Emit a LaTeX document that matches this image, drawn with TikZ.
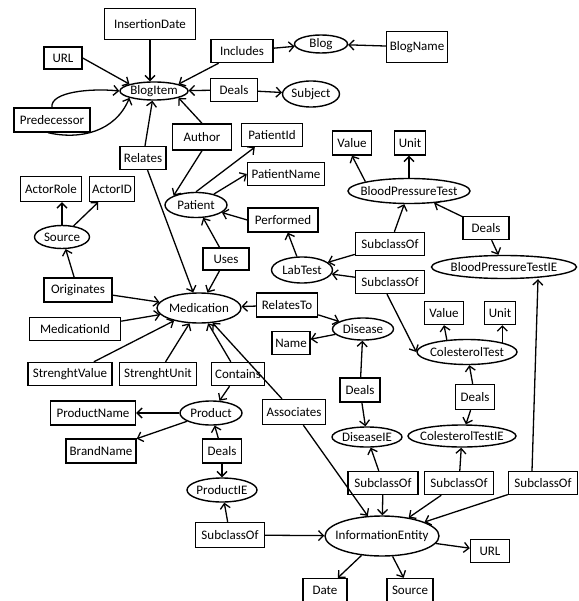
\documentclass[tikz,border=0pt]{standalone}
\usepackage{fontspec}
\setmainfont{Carlito}
\usetikzlibrary{arrows.meta,shapes.geometric}
\newcommand{\zw}[1]{\makebox[0pt]{#1}}
\begin{document}
\begin{tikzpicture}[x=1pt,y=-1pt,
  box/.style={draw, line width=1.4pt, fill=white, minimum height=23pt, inner xsep=1pt, inner ysep=0pt, font=\fontsize{13}{15}\selectfont},
  ell/.style={draw, ellipse, line width=1.4pt, fill=white, inner sep=0pt, font=\fontsize{13}{15}\selectfont},
  arr/.style={-{Straight Barb[length=5pt,width=10pt]}, line width=1.3pt}]
\useasboundingbox[fill=white] (0,0) rectangle (578,601);
% ---------- boxes ----------
\node[box, minimum width=91, minimum height=31] (insd) at (150,24) {InsertionDate};
\node[box, minimum width=38, minimum height=22] (url1) at (63,58) {URL};
\node[box, minimum width=62] (incl) at (242,51) {Includes};
\node[box, minimum width=47] (deals1) at (234,90) {Deals};
\node[box, minimum width=76, minimum height=24] (pred) at (52,120) {Predecessor};
\node[box, minimum width=59, minimum height=26] (author) at (202,137) {Author};
\node[box, minimum width=61] (pid) at (272,135) {PatientId};
\node[box, minimum width=46] (relates) at (143,158) {Relates};
\node[box, minimum width=61, minimum height=31] (blogname) at (417,47) {BlogName};
\node[box, minimum width=39, minimum height=24] (value1) at (352,143) {Value};
\node[box, minimum width=31, minimum height=24] (unit1) at (410,143) {Unit};
\node[box, minimum width=77] (pname) at (286,174) {PatientName};
\node[box, minimum width=70, minimum height=24] (perf) at (283,220) {Performed};
\node[box, minimum width=61, minimum height=25] (arole) at (51,189) {ActorRole};
\node[box, minimum width=45, minimum height=25] (aid) at (112,189) {ActorID};
\node[box, minimum width=46, minimum height=22] (uses) at (226,259) {Uses};
\node[box, minimum width=68, minimum height=24] (orig) at (78,290) {Originates};
\node[box, minimum width=91] (medid) at (75,329) {MedicationId};
\node[box, minimum width=61, minimum height=24] (relto) at (287,305) {RelatesTo};
\node[box, minimum width=69] (sub1) at (390,244) {SubclassOf};
\node[box, minimum width=69] (sub2) at (390,282) {SubclassOf};
\node[box, minimum width=46] (deals2) at (486,228) {Deals};
\node[box, minimum width=38] (name) at (291,343) {Name};
\node[box, minimum width=39] (value2) at (444,313) {Value};
\node[box, minimum width=31] (unit2) at (500,313) {Unit};
\node[box, minimum width=84] (sval) at (70,374) {StrenghtValue};
\node[box, minimum width=77] (sunit) at (158,374) {StrenghtUnit};
\node[box, minimum width=53] (contains) at (238,374) {Contains};
\node[box, minimum width=85, minimum height=24] (prodname) at (93,413) {ProductName};
\node[box, minimum width=63, minimum height=25] (assoc) at (294,412) {Associates};
\node[box, minimum width=70, minimum height=24] (brand) at (101,451) {BrandName};
\node[box, minimum width=39, minimum height=24] (deals3) at (222,451) {Deals};
\node[box, minimum width=69, minimum height=25] (sub3) at (230,535) {SubclassOf};
\node[box, minimum width=40, minimum height=24] (deals4) at (360,390) {Deals};
\node[box, minimum width=39, minimum height=25] (deals5) at (475,397) {Deals};
\node[box, minimum width=70] (sub4) at (383,483) {SubclassOf};
\node[box, minimum width=69] (sub5) at (459,483) {SubclassOf};
\node[box, minimum width=69] (sub6) at (543,483) {SubclassOf};
\node[box, minimum width=39] (url2) at (490,551) {URL};
\node[box, minimum width=44] (date) at (325,590) {Date};
\node[box, minimum width=46] (src2) at (410,590) {Source};
% ---------- ellipses ----------
\node[ell, minimum width=68, minimum height=18] (blogitem) at (154,91) {\zw{BlogItem}};
\node[ell, minimum width=53, minimum height=18] (blog) at (321,44) {\zw{Blog}};
\node[ell, minimum width=57, minimum height=26] (subject) at (311,94) {\zw{Subject}};
\node[ell, minimum width=122, minimum height=25] (bpt) at (409,191) {\zw{BloodPressureTest}};
\node[ell, minimum width=62, minimum height=25] (patient) at (196,205) {\zw{Patient}};
\node[ell, minimum width=55, minimum height=23] (src1) at (62,237) {\zw{Source}};
\node[ell, minimum width=84, minimum height=30] (med) at (199,308) {\zw{Medication}};
\node[ell, minimum width=61, minimum height=26] (labtest) at (302,270) {\zw{LabTest}};
\node[ell, minimum width=145, minimum height=23] (bptie) at (504,267) {\zw{BloodPressureTestIE}};
\node[ell, minimum width=61, minimum height=22] (disease) at (363,329) {\zw{Disease}};
\node[ell, minimum width=100, minimum height=25] (colt) at (467,352) {\zw{ColesterolTest}};
\node[ell, minimum width=62, minimum height=24] (product) at (211,413) {\zw{Product}};
\node[ell, minimum width=70, minimum height=24] (prodie) at (222,490) {\zw{ProductIE}};
\node[ell, minimum width=70, minimum height=20] (disie) at (367,437) {\zw{DiseaseIE}};
\node[ell, minimum width=108, minimum height=22] (coltie) at (462,436) {\zw{ColesterolTestIE}};
\node[ell, minimum width=114, minimum height=40] (ie) at (382,536) {\zw{InformationEntity}};
% ---------- connectors ----------
\draw[arr] (insd.south) -- (insd.south |- blogitem.north);
\draw[arr] (url1.east) -- (blogitem.north west);
\draw[arr] (incl) -- (blogitem.north east);
\draw[arr] (incl) -- (blog);
\draw[arr] (blogname) -- (blog);
\draw[arr] (deals1) -- (blogitem);
\draw[arr] (deals1) -- (subject);
\draw[arr] (pred.north) .. controls (50,92) and (90,88) .. (blogitem.west);
\draw[arr] ([xshift=-4]pred.south) .. controls (80,140) and (115,132) .. (blogitem.south west);
\draw[arr] (author.north) -- (blogitem.south east);
\draw[arr] (author.south) -- (patient.north west);
\draw[arr] (relates) -- (blogitem);
\draw[arr] (relates) -- (med);
\draw[arr] (patient.north) -- ([xshift=14]pid.south west);
\draw[arr] (patient) -- (pname.west);
\draw[arr] (perf.west) -- (patient);
\draw[arr] (labtest) -- (perf);
\draw[arr] (uses) -- (patient);
\draw[arr] (uses) -- (med);
\draw[arr] (src1.north) -- (src1.north |- arole.south);
\draw[arr] (src1) -- (aid);
\draw[arr] (orig) -- (src1);
\draw[arr] (orig) -- (med);
\draw[arr] (medid) -- (med);
\draw[arr] (sval) -- (med);
\draw[arr] (sunit) -- (med);
\draw[arr] (contains) -- (med);
\draw[arr] (contains) -- (product);
\draw[arr] (relto) -- (med);
\draw[arr] (relto) -- (disease);
\draw[arr] (assoc) -- (med);
\draw[arr] (assoc) -- (ie);
\draw[arr] (disease) -- (name);
\draw[arr] (deals4) -- (disease);
\draw[arr] (deals4) -- (disie);
\draw[arr] (sub1) -- (bpt);
\draw[arr] (sub1) -- (labtest);
\draw[arr] (sub2) -- (labtest);
\draw[arr] ([xshift=-3]sub2.south) -- (colt.west);
\draw[arr] (deals2) -- (bpt);
\draw[arr] (deals2) -- (bptie);
\draw[arr] (bpt.north west) -- (value1.south);
\draw[arr] (bpt.north) -- (bpt.north |- unit1.south);
\draw[arr] (colt.149) -- (value2.south);
\draw[arr] (colt.15) -- (colt.15 |- unit2.south);
\draw[arr] (deals5) -- (colt);
\draw[arr] (deals5) -- (coltie);
\draw[arr] (sub4) -- (disie);
\draw[arr] (sub4) -- (ie);
\draw[arr] (sub5) -- (coltie);
\draw[arr] (sub5) -- (ie);
\draw[arr] ([xshift=-11]sub6.north) -- ([xshift=34]bptie.south);
\draw[arr] (sub6) -- (ie);
\draw[arr] (sub3) -- (prodie);
\draw[arr] (sub3) -- (ie);
\draw[arr] (ie) -- (url2);
\draw[arr] (ie) -- (date);
\draw[arr] (ie) -- (src2);
\draw[arr] (product) -- (prodname);
\draw[arr] (product) -- (brand);
\draw[arr] (deals3) -- (product);
\draw[arr] (deals3) -- (prodie);
\end{tikzpicture}
\end{document}
